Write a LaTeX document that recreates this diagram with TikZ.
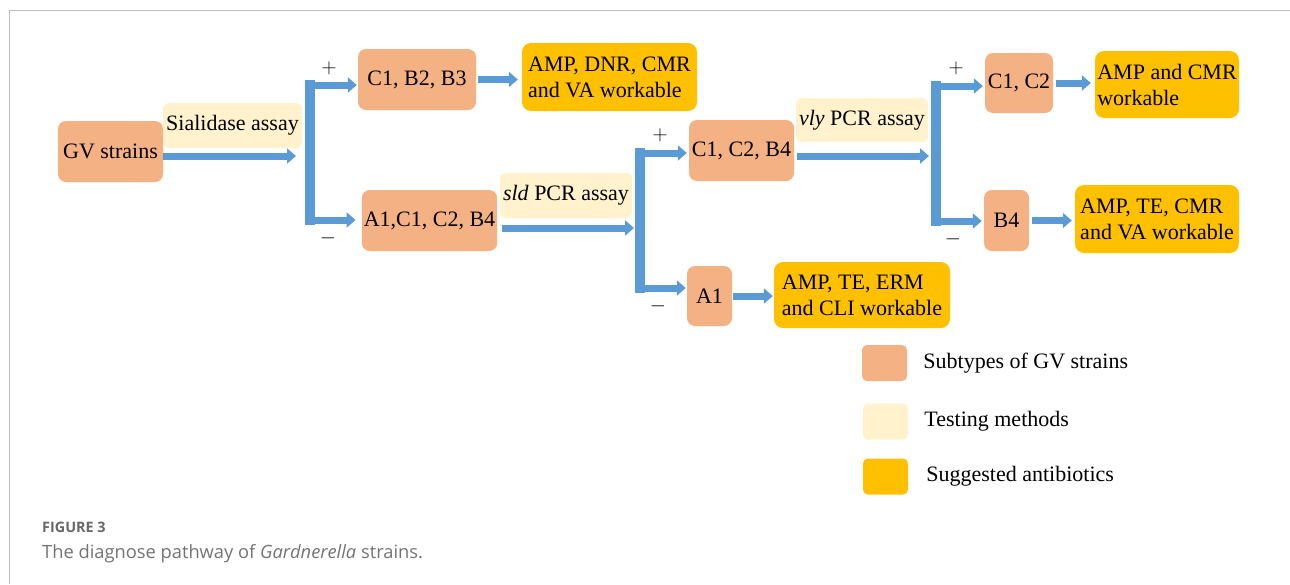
\documentclass[tikz,border=0pt]{standalone}
\usepackage{fontspec}
\setmainfont{Liberation Serif}
\newfontfamily\capfont{Open Sans}
\usetikzlibrary{arrows.meta, positioning, calc}
\definecolor{subtypeorange}{HTML}{F4B183}
\definecolor{methodcream}{HTML}{FFF2CC}
\definecolor{drugyellow}{HTML}{FFC000}
\definecolor{flowblue}{HTML}{5B9BD5}
\definecolor{framegrey}{HTML}{BDBDBD}
\definecolor{capgrey}{HTML}{737373}

\begin{document}
\begin{tikzpicture}[x=1pt, y=-1pt,
    every node/.style={font=\fontsize{22}{26}\selectfont, inner sep=2pt},
    subtype/.style={rectangle, rounded corners=8pt, fill=subtypeorange, align=center},
    method/.style={rectangle, rounded corners=6pt, fill=methodcream, align=center},
    drug/.style={rectangle, rounded corners=9pt, fill=drugyellow, align=left},
    key/.style={rectangle, rounded corners=5pt, minimum width=45pt, minimum height=36pt},
    sign/.style={inner sep=0pt, font=\fontsize{20}{24}\selectfont},
    flow/.style={-{Triangle[length=9pt, width=15pt]}, line width=7pt, flowblue},
    bar/.style={line width=10pt, flowblue, line cap=rect}
]
\useasboundingbox (0,0) rectangle (1290,584);

% Frame
\draw [framegrey, line width=1.5pt] (9.5,584) -- (9.5,10.5) -- (1290,10.5);

% Sialidase step
\node (GV)   [subtype, minimum width=105pt, minimum height=61pt] at (110.5,151.5) {GV strains};
\node (SIAL) [method, minimum width=139pt, minimum height=45pt] at (232.5,125.5) {Sialidase assay};
\node (CBB)  [subtype, minimum width=118pt, minimum height=61pt] at (417,79.5) {C1, B2, B3};
\node (ACCB) [subtype, minimum width=135pt, minimum height=61pt] at (429.5,220.5) {A1,C1, C2, B4};
\node (DRUGA) [drug, minimum width=175pt, minimum height=68pt] at (609.5,77) {AMP, DNR, CMR\\and VA workable};

% sld step
\node (SLD)  [method, minimum width=132pt, minimum height=45pt] at (566,195.5) {\textit{sld} PCR assay};
\node (CCB)  [subtype, minimum width=105pt, minimum height=61pt] at (741.5,150.5) {C1, C2, B4};
\node (AONE) [subtype, minimum width=45pt, minimum height=60pt] at (709.5,296) {A1};
\node (DRUGB) [drug, minimum width=176pt, minimum height=66pt] at (862,295) {AMP, TE, ERM\\and CLI workable};

% vly step
\node (VLY)  [method, minimum width=132pt, minimum height=44pt] at (862,120) {\textit{vly} PCR assay};
\node (CC)   [subtype, minimum width=68pt, minimum height=60pt] at (1019,83) {C1, C2};
\node (BFOUR) [subtype, minimum width=45pt, minimum height=61pt] at (1006.5,220.5) {B4};
\node (DRUGC) [drug, minimum width=144pt, minimum height=67pt] at (1167,84.5) {AMP and CMR\\workable};
\node (DRUGD) [drug, minimum width=164pt, minimum height=68pt] at (1157,219) {AMP, TE, CMR\\and VA workable};

% Branch points
\coordinate (J1) at (310,156);
\coordinate (T1) at (310,85);
\coordinate (B1) at (310,220);
\coordinate (J2) at (640,228);
\coordinate (T2) at (640,153);
\coordinate (B2) at (640,288);
\coordinate (J3) at (936,156);
\coordinate (T3) at (936,86);
\coordinate (B3) at (936,221);

% Bars
\draw [bar] (T1) -- (B1);
\draw [bar] (T2) -- (B2);
\draw [bar] (T3) -- (B3);

% Arrows into bars
\draw [flow, shorten >=14pt] (GV.east |- J1) -- (J1);
\draw [flow, shorten <=5pt, shorten >=6pt] (ACCB.east |- J2) -- (J2);
\draw [flow, shorten <=3pt, shorten >=7pt] (CCB.east |- J3) -- (J3);

% Arrows out of bars
\draw [flow, shorten >=1pt] (T1) -- (T1 -| CBB.west);
\draw [flow, shorten >=6pt] (B1) -- (B1 -| ACCB.west);
\draw [flow, shorten >=2pt] (T2) -- (T2 -| CCB.west);
\draw [flow, shorten >=1pt] (B2) -- (B2 -| AONE.west);
\draw [flow, shorten >=2pt] (T3) -- (T3 -| CC.west);
\draw [flow, shorten >=2pt] (B3) -- (B3 -| BFOUR.west);

% Arrows to antibiotics
\draw [flow, shorten <=2pt, shorten >=4pt] (CBB.east) -- (CBB.east -| DRUGA.west);
\draw [flow, shorten <=1pt, shorten >=1pt] (AONE.east) -- (AONE.east -| DRUGB.west);
\draw [flow, shorten <=3pt, shorten >=4pt] (CC.east) -- (CC.east -| DRUGC.west);
\draw [flow, shorten <=3pt, shorten >=3pt] (BFOUR.east) -- (BFOUR.east -| DRUGD.west);

% Signs
\node (PLUSA)  [sign] at (329,68)  {$+$};
\node (MINUSA) [sign] at (328,238) {$-$};
\node (PLUSB)  [sign] at (660,135) {$+$};
\node (MINUSB) [sign] at (658,306) {$-$};
\node (PLUSC)  [sign] at (956,68)  {$+$};
\node (MINUSC) [sign] at (953,239) {$-$};

% Legend
\node (KEYA) [key, fill=subtypeorange] at (884.5,363) {};
\node (KEYB) [key, fill=methodcream] at (885.5,421.5) {};
\node (KEYC) [key, fill=drugyellow] at (885.5,476.5) {};
\node (TXTA) [right=14pt of KEYA] {Subtypes of GV strains};
\node (TXTB) [right=14pt of KEYB] {Testing methods};
\node (TXTC) [right=16pt of KEYC] {Suggested antibiotics};

% Caption
\node (FIGNUM) [anchor=west, inner sep=0pt, font=\capfont\bfseries\fontsize{14.4}{17}\selectfont, text=capgrey!90!black] at (42,527) {FIGURE 3};
\node (CAPTION) [anchor=west, inner sep=0pt, font=\capfont\fontsize{18.3}{21}\selectfont, text=capgrey] at (42,554) {The diagnose pathway of \textit{Gardnerella} strains.};

\end{tikzpicture}
\end{document}
